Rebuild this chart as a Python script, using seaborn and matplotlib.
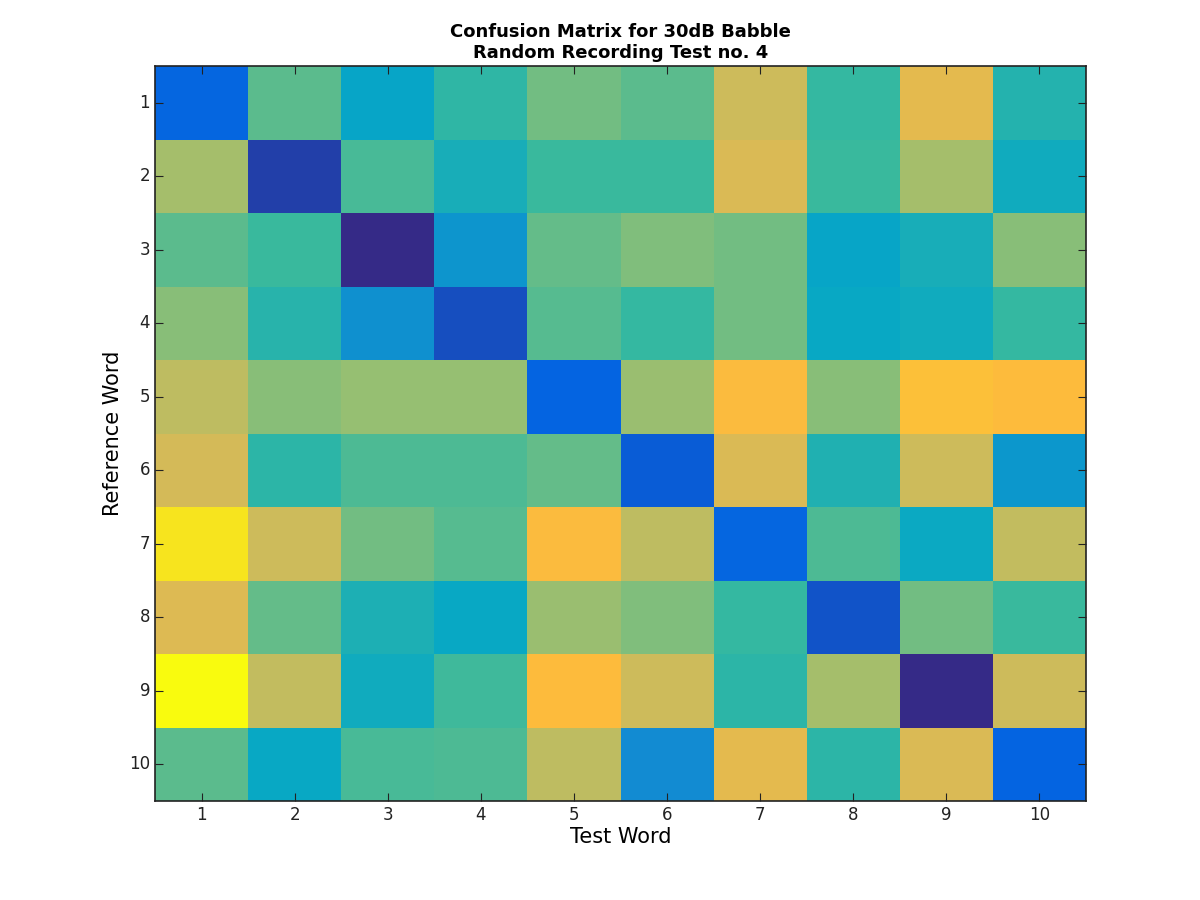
import numpy as np
import pandas as pd
import seaborn as sns
import matplotlib.pyplot as plt
from matplotlib.colors import LinearSegmentedColormap

labels = [str(i) for i in range(1, 11)]
row1 = [0.14, 0.55, 0.37, 0.48, 0.58, 0.55, 0.73, 0.49, 0.78, 0.45]
row2 = [0.66, 0.05, 0.52, 0.42, 0.50, 0.50, 0.75, 0.50, 0.66, 0.40]
row3 = [0.55, 0.50, 0.00, 0.31, 0.56, 0.60, 0.58, 0.37, 0.42, 0.61]
row4 = [0.61, 0.46, 0.29, 0.08, 0.54, 0.49, 0.58, 0.38, 0.40, 0.49]
row5 = [0.70, 0.61, 0.63, 0.63, 0.13, 0.64, 0.84, 0.61, 0.86, 0.85]
row6 = [0.74, 0.47, 0.53, 0.53, 0.56, 0.11, 0.75, 0.44, 0.73, 0.32]
row7 = [0.95, 0.73, 0.58, 0.54, 0.84, 0.70, 0.14, 0.53, 0.39, 0.71]
row8 = [0.76, 0.56, 0.43, 0.38, 0.64, 0.60, 0.49, 0.09, 0.58, 0.50]
row9 = [1.00, 0.71, 0.40, 0.51, 0.85, 0.73, 0.47, 0.66, 0.00, 0.73]
row10 = [0.55, 0.38, 0.52, 0.53, 0.70, 0.27, 0.78, 0.47, 0.75, 0.13]

data = pd.DataFrame([row1, row2, row3, row4, row5, row6, row7, row8, row9, row10],
                    index=labels, columns=labels)

parula = LinearSegmentedColormap.from_list("parula", [
    (0.0, "#352a87"), (0.125, "#0363e1"), (0.25, "#1485d4"), (0.375, "#06a7c6"),
    (0.5, "#38b99e"), (0.625, "#92bf73"), (0.75, "#d9ba56"), (0.85, "#fdbb3c"),
    (0.92, "#f5d42a"), (1.0, "#f9fb0e")])

fig = plt.figure(figsize=(12, 9), dpi=100)
ax = fig.add_axes([155/1200, 1-801/900, (1086-155)/1200, (801-66)/900])
sns.heatmap(data, ax=ax, cmap=parula, vmin=0, vmax=1, cbar=False)
for s in ax.spines.values():
    s.set_visible(True); s.set_linewidth(1.2); s.set_color("#222222")
ax.tick_params(direction="in", length=6, top=True, right=True, labelsize=12, colors="#222222")
ax.set_xticklabels(labels, rotation=0)
ax.set_yticklabels(labels, rotation=0)
ax.set_xlabel("Test Word", fontsize=15, labelpad=2)
ax.set_ylabel("Reference Word", fontsize=15)
ax.set_title("Confusion Matrix for 30dB Babble\nRandom Recording Test no. 4",
             fontsize=13, fontweight="bold", pad=6)
fig.savefig("out.png", dpi=100)
